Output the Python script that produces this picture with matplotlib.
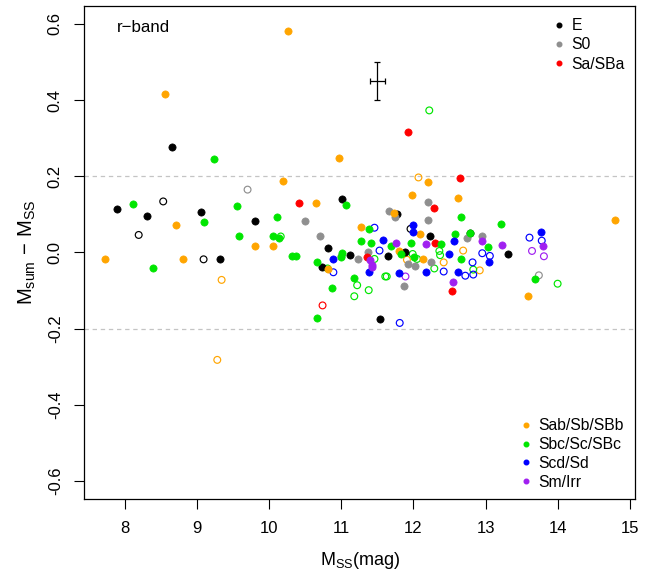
#imports
import matplotlib
matplotlib.use('Agg')
import matplotlib.pyplot as plt
import numpy as np

plt.rcParams['font.family'] = ['Liberation Sans', 'DejaVu Sans']
plt.rcParams['mathtext.fontset'] = 'custom'
plt.rcParams['mathtext.rm'] = 'Liberation Sans'
plt.rcParams['mathtext.it'] = 'Liberation Sans:italic'

#data (x = M_SS, y = M_sum - M_SS), filled and open symbols per type
e_x = [8.65, 7.885, 8.30, 9.06, 9.80, 9.32, 11.01, 11.77, 12.23, 12.79, 10.82, 11.89, 11.125, 11.65, 10.73, 11.53, 13.31]
e_y = [0.278, 0.115, 0.096, 0.107, 0.082, -0.017, 0.141, 0.100, 0.044, 0.052, 0.012, 0.001, -0.006, -0.009, -0.039, -0.174, -0.003]
e_ox = [8.53, 8.19, 9.09, 11.96]
e_oy = [0.134, 0.046, -0.018, 0.062]

s0_x = [10.50, 10.70, 12.20, 11.66, 11.75, 12.20, 12.75, 12.95, 10.99, 11.37, 11.23, 11.93, 12.02, 12.25, 11.87]
s0_y = [0.082, 0.042, 0.133, 0.109, 0.092, 0.086, 0.039, 0.042, -0.010, 0.002, -0.017, -0.031, -0.035, -0.025, -0.089]
s0_ox = [9.70, 13.74]
s0_oy = [0.165, -0.060]

sa_x = [10.41, 11.92, 12.65, 12.29, 12.30, 11.35, 12.53]
sa_y = [0.129, 0.317, 0.195, 0.116, 0.026, -0.012, -0.100]
sa_ox = [10.74]
sa_oy = [-0.139]

sb_x = [10.26, 8.555, 10.19, 10.645, 8.71, 9.81, 10.05, 7.72, 8.81, 10.97, 12.20, 11.98, 12.62, 11.73, 11.27,
        12.09, 11.80, 12.14, 10.82, 14.79, 13.59]
sb_y = [0.582, 0.416, 0.188, 0.129, 0.071, 0.016, 0.016, -0.018, -0.017, 0.249, 0.184, 0.151, 0.143, 0.103, 0.066,
        0.049, 0.004, -0.018, -0.043, 0.085, -0.113]
sb_ox = [9.34, 9.28, 12.07, 11.91, 12.42, 12.69, 12.92]
sb_oy = [-0.072, -0.282, 0.197, -0.019, -0.026, 0.005, -0.047]

sc_x = [9.23, 8.115, 9.56, 9.09, 10.11, 9.58, 10.05, 10.14, 10.32, 10.37, 10.66, 8.39, 10.66, 11.07, 12.66, 11.39,
        12.58, 12.78, 11.28, 11.41, 11.69, 11.97, 12.38, 11.83, 12.01, 12.66, 10.87, 11.18, 11.01, 10.99, 13.21,
        13.04, 13.69]
sc_y = [0.246, 0.128, 0.121, 0.080, 0.092, 0.044, 0.044, 0.039, -0.009, -0.008, -0.026, -0.042, -0.173, 0.124,
        0.094, 0.061, 0.049, 0.052, 0.029, 0.025, 0.016, 0.025, 0.023, -0.004, -0.013, -0.017, -0.092, -0.066,
        -0.002, -0.011, 0.075, 0.014, -0.069]
sc_ox = [10.16, 12.22, 11.99, 12.05, 12.29, 12.36, 12.37, 11.46, 10.81, 11.61, 11.63, 11.18, 11.22, 11.38, 12.83, 14.00]
sc_oy = [0.042, 0.373, -0.004, -0.017, -0.042, 0.004, -0.007, -0.017, -0.042, -0.063, -0.063, -0.115, -0.086,
         -0.099, -0.045, -0.082]

sd_x = [12.00, 11.99, 11.58, 12.56, 12.50, 12.17, 12.62, 11.80, 11.38, 10.89, 13.77, 13.05]
sd_y = [0.071, 0.054, 0.033, 0.030, -0.004, -0.052, -0.052, -0.054, -0.052, -0.017, 0.055, -0.025]
sd_ox = [11.46, 11.53, 10.89, 12.42, 12.72, 12.83, 12.82, 11.81, 13.61, 13.78, 12.955, 13.06]
sd_oy = [0.065, 0.005, -0.052, -0.050, -0.061, -0.058, -0.026, -0.185, 0.039, 0.031, -0.002, -0.009]

sm_x = [11.755, 12.18, 12.95, 12.55, 11.40, 11.42, 11.43, 13.80, 13.23]
sm_y = [0.025, 0.023, 0.030, -0.078, -0.019, -0.032, -0.039, 0.016, 0.020]
sm_ox = [11.89, 13.645, 13.81]
sm_oy = [-0.063, 0.004, -0.010]

#typical error bar
err_x = [11.5]
err_y = [0.45]
err_dx = 0.1
err_dy = 0.05

x_ticks = [8, 9, 10, 11, 12, 13, 14, 15]
y_ticks = [-0.6, -0.4, -0.2, 0.0, 0.2, 0.4, 0.6]
y_ticklabels = ['-0.6', '-0.4', '-0.2', '0.0', '0.2', '0.4', '0.6']

groups = [
    ('E', 'black', e_x, e_y, e_ox, e_oy),
    ('S0', '#8f8f8f', s0_x, s0_y, s0_ox, s0_oy),
    ('Sa/SBa', '#ff0000', sa_x, sa_y, sa_ox, sa_oy),
    ('Sab/Sb/SBb', '#ffa500', sb_x, sb_y, sb_ox, sb_oy),
    ('Sbc/Sc/SBc', '#00e600', sc_x, sc_y, sc_ox, sc_oy),
    ('Scd/Sd', '#0000ff', sd_x, sd_y, sd_ox, sd_oy),
    ('Sm/Irr', '#a020f0', sm_x, sm_y, sm_ox, sm_oy),
]

fig = plt.figure(figsize=(6.65, 5.78), dpi=100)
ax = fig.add_axes([0.1268, 0.1362, 0.8286, 0.854])

#reference lines
for yy in [0.2, -0.2]:
    ax.axhline(yy, color='#c4c4c4', ls=(0, (3.5, 3)), lw=0.9, zorder=1)

#points
handles = []
for name, col, x, y, ox, oy in groups:
    ax.scatter(ox, oy, s=24, facecolors='none', edgecolors=col, linewidths=0.85, zorder=2)
    ax.scatter(x, y, s=27, c=col, edgecolors=col, linewidths=0.5, zorder=3)
    h, = ax.plot([], [], ls='none', marker='o', ms=3.3, color=col, label=name)
    handles.append(h)

ax.errorbar(err_x, err_y, xerr=err_dx, yerr=err_dy, fmt='none', ecolor='black',
            elinewidth=0.9, capsize=2.2, capthick=0.9, zorder=4)

ax.set_xlim(7.436, 15.078)
ax.set_ylim(-0.648, 0.648)
ax.set_xticks(x_ticks)
ax.set_yticks(y_ticks)
ax.set_yticklabels(y_ticklabels, rotation=90, va='center')
ax.tick_params(direction='out', length=7, width=0.8, labelsize=12, pad=8.5)
for sp in ax.spines.values():
    sp.set_linewidth(0.9)

ax.set_xlabel(r'$\mathrm{M_{SS}(mag)}$', fontsize=13, labelpad=10)
ax.set_ylabel(r'$\mathrm{M_{sum}\,-\,M_{SS}}$', fontsize=14.5, labelpad=7)

ax.text(0.059, 0.955, 'r−band', transform=ax.transAxes, fontsize=12.2, va='center', ha='left')

#legends
leg1 = ax.legend(handles=handles[:3], loc='upper left', bbox_to_anchor=(0.853, 0.975), frameon=False,
                 fontsize=11.3, handlelength=0.6, handletextpad=0.5, labelspacing=0.28, borderpad=0,
                 borderaxespad=0)
ax.add_artist(leg1)
ax.legend(handles=handles[3:], loc='upper left', bbox_to_anchor=(0.793, 0.164), frameon=False,
          fontsize=11.3, handlelength=0.6, handletextpad=0.5, labelspacing=0.24, borderpad=0,
          borderaxespad=0)

plt.savefig('out.png', dpi=100)
